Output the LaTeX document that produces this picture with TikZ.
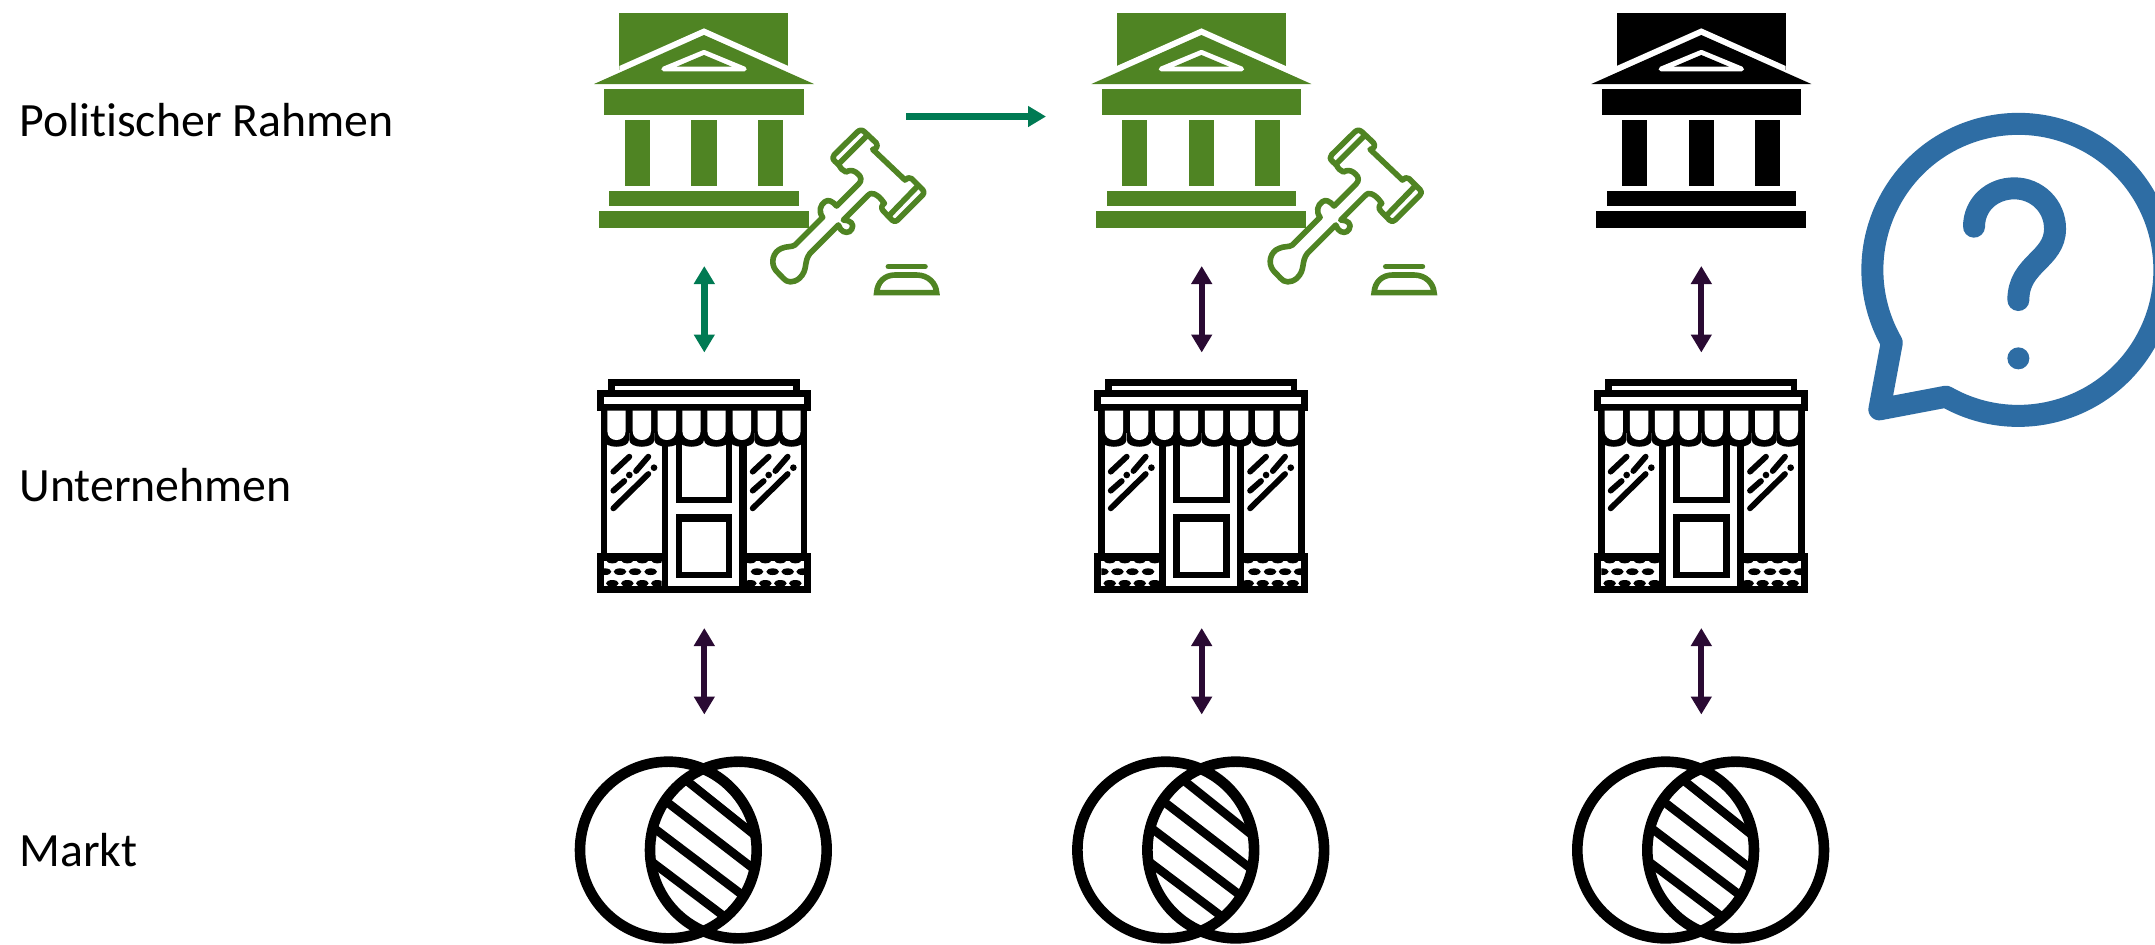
\documentclass[tikz,border=0pt]{standalone}
\usepackage{fontspec}
\setmainfont[Ligatures=NoCommon]{Carlito}
\usetikzlibrary{arrows.meta}
\definecolor{bankgreen}{HTML}{4F8423}
\definecolor{arrowgreen}{HTML}{007A53}
\definecolor{arrowdark}{HTML}{2A0A33}
\definecolor{bubbleblue}{HTML}{2E6DA4}
\tikzset{
  zoomunit/.style={x=0.166667pt,y=-0.166667pt},
  label text/.style={anchor=base west,inner sep=0pt,font=\fontsize{23.9pt}{28pt}\selectfont},
  greenlink/.style={arrowgreen,line width=3.2pt,{Triangle[length=9pt,width=10pt]}-{Triangle[length=9pt,width=10pt]}},
  darklink/.style={arrowdark,line width=3pt,{Triangle[length=9pt,width=10pt]}-{Triangle[length=9pt,width=10pt]}},
  flowlink/.style={arrowgreen,line width=3.2pt,-{Triangle[length=9pt,width=10pt]}},
  gavelline/.style={draw=bankgreen,line width=2.8pt,line join=round,line cap=round},
  shopglint/.style={line width=2.9pt,line cap=round,black},
  vennring/.style={draw=black,line width=5.3pt},
}
% #1 horizontal offset, #2 colour
\newcommand\bankicon[2]{%
\begin{scope}[shift={(#1+570,0)},zoomunit]
  \fill[#2] (148,40) rectangle (655,210);
  \fill[white] (148,198) -- (402,85) -- (655,198) -- (655,262) -- (148,262) -- cycle;
  \fill[#2] (72,252) -- (402,105) -- (732,252) -- cycle;
  \filldraw[white,line width=2.4pt,line join=round] (402,157) -- (523,207) -- (281,207) -- cycle;
  \fill[#2] (402,165) -- (485,200) -- (320,200) -- cycle;
  \fill[#2] (103,268) rectangle (701,344);
  \fill[#2] (164,359) rectangle (240,557);
  \fill[#2] (364,359) rectangle (440,557);
  \fill[#2] (563,359) rectangle (639,557);
  \fill[#2] (118,573) rectangle (686,618);
  \fill[#2] (87,634) rectangle (717,683);
\end{scope}}
\newcommand\gavelicon[1]{%
\begin{scope}[shift={(#1+770,120)},zoomunit]
  \draw[gavelline]
    (75,375) -- (158,292) .. controls (145,275) and (150,255) .. (165,245)
    .. controls (175,238) and (185,242) .. (200,258) -- (266,192)
    .. controls (276,182) and (274,170) .. (264,162) -- (258,157)
    .. controls (248,150) and (238,150) .. (228,156) .. controls (218,152) and (212,145) .. (207,135)
    -- (195,124) .. controls (187,117) and (187,110) .. (193,104) -- (262,36)
    .. controls (270,29) and (276,29) .. (284,36) -- (318,68)
    .. controls (326,78) and (318,88) .. (308,88) -- (405,180)
    .. controls (412,174) and (418,170) .. (425,176) -- (458,209)
    .. controls (463,215) and (463,220) .. (458,225) -- (383,300)
    .. controls (377,306) and (372,306) .. (366,300) -- (340,273)
    .. controls (332,265) and (335,255) .. (343,250)
    .. controls (330,232) and (325,228) .. (313,222)
    .. controls (305,218) and (300,220) .. (292,228) -- (220,300)
    .. controls (240,300) and (255,312) .. (245,328)
    .. controls (238,340) and (222,340) .. (212,328) -- (205,315) -- (120,400)
    .. controls (100,425) and (115,450) .. (88,475)
    .. controls (70,490) and (50,488) .. (40,475) -- (18,452)
    .. controls (0,430) and (8,395) .. (35,385) .. controls (50,378) and (65,382) .. (75,375) -- cycle;
  \draw[gavelline] (205,133) -- (290,48);
  \draw[gavelline] (444,197) -- (357,287);
  \draw[gavelline] (355,440) -- (465,440);
  \draw[gavelline,line join=miter,line cap=butt] (320,518) .. controls (322,485) and (345,465) .. (375,465)
    -- (440,465) .. controls (475,465) and (498,490) .. (500,518) -- cycle;
\end{scope}}
\newcommand\shopoval[2]{\fill[black] (#1,#2) ellipse [x radius=19,y radius=10];}
\newcommand\shopicon[1]{%
\begin{scope}[shift={(#1+580,370)},zoomunit]
  \fill[black] (83,27) rectangle (660,60);
  \fill[white] (105,47) rectangle (640,60);
  \fill[black] (51,60) rectangle (692,122);
  \fill[white] (72,80) rectangle (672,102);
  \fill[black] (62,122) rectangle (682,668);
  \fill[black] (51,550) rectangle (692,668);
  \fill[white] (82,190) rectangle (245,550);
  \fill[white] (265,190) rectangle (478,648);
  \fill[white] (500,190) rectangle (662,550);
  \fill[black] (287,190) rectangle (457,400);
  \fill[white] (307,190) rectangle (437,380);
  \fill[black] (287,433) rectangle (457,625);
  \fill[white] (307,455) rectangle (437,605);
  \fill[white] (72,572) rectangle (245,648);
  \fill[white] (500,572) rectangle (672,648);
  \begin{scope}
    \clip (72,572) rectangle (245,648);
    \foreach \px in {52,97,142,187,232} {\shopoval{\px}{570}\shopoval{\px}{640}}
    \foreach \px in {75,120,165,212} {\shopoval{\px}{605}}
  \end{scope}
  \begin{scope}
    \clip (500,572) rectangle (672,648);
    \foreach \px in {511,556,601,646,691} {\shopoval{\px}{570}\shopoval{\px}{640}}
    \foreach \px in {531,578,623,668} {\shopoval{\px}{605}}
  \end{scope}
  \foreach \a in {82,158,233,307,382,458,533,607} {
    \fill[black] (\a-10,140) -- (\a-10,210) .. controls (\a-10,237) and (\a+65,237) .. (\a+65,210) -- (\a+65,140) -- cycle;
    \fill[white] (\a,122) -- (\a,183) .. controls (\a,219) and (\a+55,219) .. (\a+55,183) -- (\a+55,122) -- cycle;
  }
  \foreach \dx in {0,418} {
    \begin{scope}[xshift=\dx*0.166667pt]
      \draw[shopglint] (100,305) -- (148,260);
      \draw[shopglint] (168,303) -- (205,260);
      \draw[shopglint] (100,362) -- (133,333);
      \draw[shopglint] (100,415) -- (205,312);
      \fill[black] (148,315) circle [radius=10];
      \fill[black] (222,293) circle [radius=10];
    \end{scope}
  }
\end{scope}}
\newcommand\vennicon[1]{%
\begin{scope}[shift={(#1+560,740)},zoomunit]
  \begin{scope}
    \clip (325,330) circle [radius=265];
    \clip (535,330) circle [radius=265];
    \draw[black,line width=4.3pt] (340,90) -- (640,330);
    \draw[black,line width=4.3pt] (270,147) -- (640,432);
    \draw[black,line width=4.3pt] (230,225) -- (600,505);
    \draw[black,line width=4.3pt] (235,335) -- (540,565);
  \end{scope}
  \draw[vennring] (325,330) circle [radius=265];
  \draw[vennring] (535,330) circle [radius=265];
\end{scope}}
\begin{document}
\begin{tikzpicture}[x=0.5pt,y=-0.5pt]
\clip (0,0) rectangle (2155,944);
\fill[white] (0,0) rectangle (2155,944);
% row labels
\node[label text] (rahmen) at (19,136.7) {Politischer Rahmen};
\node[label text] (unternehmen) at (19,501.7) {Unternehmen};
\node[label text] (markt) at (19,866.7) {Markt};
% icons
\bankicon{0}{bankgreen}
\bankicon{497.4}{bankgreen}
\bankicon{997.3}{black}
\gavelicon{0}
\gavelicon{497.4}
\foreach \off in {0,497.4,997.3} {\shopicon{\off}\vennicon{\off}}
% anchors for the connectors
\coordinate (a1t) at (704.3,266); \coordinate (a1b) at (704.3,352.5);
\coordinate (a2t) at (1201.7,266); \coordinate (a2b) at (1201.7,352.5);
\coordinate (a3t) at (1701.3,266); \coordinate (a3b) at (1701.3,352.5);
\coordinate (b1t) at (704.3,628); \coordinate (b1b) at (704.3,714.5);
\coordinate (b2t) at (1201.7,628); \coordinate (b2b) at (1201.7,714.5);
\coordinate (b3t) at (1701.3,628); \coordinate (b3b) at (1701.3,714.5);
\coordinate (fa) at (906,116.5); \coordinate (fb) at (1046,116.5);
\draw[greenlink] (a1t) -- (a1b);
\draw[darklink] (a2t) -- (a2b);
\draw[darklink] (a3t) -- (a3b);
\draw[darklink] (b1t) -- (b1b);
\draw[darklink] (b2t) -- (b2b);
\draw[darklink] (b3t) -- (b3b);
\draw[flowlink] (fa) -- (fb);
% speech bubble
\begin{scope}[shift={(1840,100)},zoomunit]
  \draw[bubbleblue,line width=11pt,line join=round,line cap=round]
    (318,890) arc[start angle=119.7,end angle=-209.9,radius=438] -- (118,928) -- cycle;
  \draw[bubbleblue,line width=11pt,line cap=round]
    (402,380) .. controls (402,313) and (456,265) .. (523,265)
    .. controls (590,265) and (645,318) .. (645,386)
    .. controls (645,480) and (535,490) .. (535,600);
  \fill[bubbleblue] (535,775) circle [radius=33];
\end{scope}
\end{tikzpicture}
\end{document}
